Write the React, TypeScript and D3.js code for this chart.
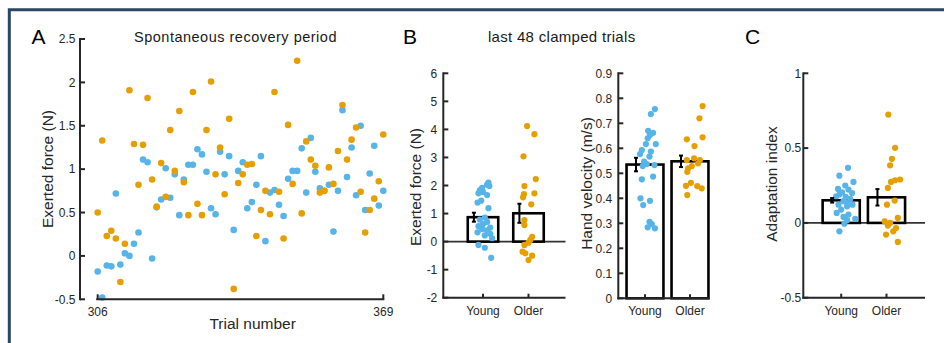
import React from 'react';
import * as d3 from 'd3';

// colours used in the figure
const BLUE = '#56B4E9';
const ORANGE = '#E69F00';
const INK = '#262626';
const FONT = "'Liberation Sans', Arial, Helvetica, sans-serif";

// ---- panel A: spontaneous recovery period (trials 306..369) ----
const trials = d3.range(306, 370);
const youngForceA = [
  -0.18, -0.48, -0.11, -0.12, 0.72, -0.1, 0.03, 0.0, 0.14, 0.27, 1.11, 1.08, -0.03, 0.56, 0.65, 1.01,
  0.67, 0.94, 0.47, 0.88, 1.05, 1.05, 1.23, 1.17, 0.97, 0.55, 0.48, 1.2, 0.94, 1.15, 0.3, 0.98,
  1.08, 0.55, 0.62, 0.82, 1.15, 0.17, 0.73, 0.76, 0.59, 0.46, 0.89, 0.98, 0.98, 1.24, 0.73, 1.36,
  0.97, 0.78, 0.75, 0.82, 0.28, 0.75, 1.68, 0.91, 1.25, 0.7, 1.5, 0.53, 0.95, 1.27, 0.58, 0.75,
];
const olderForceA = [
  0.5, 1.33, 0.23, 0.29, 0.2, -0.3, 0.14, 1.91, 1.29, 0.82, 1.28, 1.82, 0.88, 0.57, 1.07, 0.68,
  1.45, 0.98, 1.67, 0.85, 0.47, 1.89, 0.6, 0.47, 1.45, 2.01, 0.94, 1.25, 0.71, 1.58, -0.38, 0.84,
  0.94, 1.05, 1.06, 0.23, 0.53, 0.75, 0.48, 1.89, 0.74, 0.2, 1.51, 0.83, 2.25, 0.49, 1.32, 1.11,
  1.04, 0.73, 0.75, 1.02, 0.83, 1.21, 1.74, 1.11, 1.34, 1.48, 0.74, 0.27, 0.53, 0.66, 0.86, 1.4,
];
const forceTicksA = [-0.5, 0, 0.5, 1, 1.5, 2, 2.5];

// ---- panel B: last 48 clamped trials ----
const groups = ['Young', 'Older'];

const youngForceB = [2.1, 2.03, 1.98, 1.92, 1.83, 1.77, 1.72, 1.66, 1.46, 1.39, 1.19, 0.86, 0.78,
  0.7, 0.62, 0.55, 0.5, 0.45, 0.4, 0.33, 0.28, 0.22, 0.12, -0.12, -0.22, -0.58];
const youngForceBJitter = [0.12, 0.09, 0.14, -0.02, -0.07, 0, -0.1, 0.09, -0.04, -0.12, 0.12, 0.04,
  -0.07, 0.09, 0, -0.1, 0.16, -0.02, 0.09, -0.12, 0.16, 0.04, 0.2, -0.1, 0.04, 0.18];
const olderForceB = [4.12, 3.83, 3.04, 2.23, 1.98, 1.72, 1.69, 1.58, 1.33, 0.77, 0.59, 0.17, 0.06,
  -0.04, -0.12, -0.36, -0.42, -0.5, -0.66];
const olderForceBJitter = [-0.03, 0.13, -0.11, 0.16, -0.09, 0.13, -0.1, -0.12, 0.06, -0.09, -0.09,
  0.08, 0.04, 0, -0.09, -0.13, -0.07, 0.08, 0];
const forceMeansB = [0.87, 1.01];
const forceLoB = [0.71, 0.67];
const forceHiB = [1.03, 1.35];
const forceTicksB = [-2, -1, 0, 1, 2, 3, 4, 5, 6];

const youngVel = [0.757, 0.737, 0.67, 0.662, 0.653, 0.64, 0.617, 0.617, 0.593, 0.587, 0.577, 0.567,
  0.547, 0.537, 0.529, 0.533, 0.487, 0.476, 0.4, 0.39, 0.373, 0.306, 0.297, 0.284, 0.28];
const youngVelJitter = [0.22, 0.13, 0.07, 0.18, 0.11, 0.06, 0.24, 0.02, -0.07, 0.13, -0.11, 0.1,
  -0.02, 0.04, -0.05, 0.21, 0.18, -0.07, -0.1, 0.11, -0.04, 0.1, 0.15, 0.06, 0.22];
const olderVel = [0.769, 0.72, 0.644, 0.636, 0.609, 0.553, 0.56, 0.553, 0.54, 0.529, 0.52, 0.506,
  0.462, 0.45, 0.449, 0.44, 0.413];
const olderVelJitter = [0.28, 0.21, 0.28, -0.07, 0.1, 0.22, 0.09, -0.07, 0.18, 0.04, -0.04, -0.06,
  0.02, -0.09, 0.16, 0.26, -0.06];
const velMeans = [0.535, 0.548];
const velLo = [0.508, 0.525];
const velHi = [0.562, 0.571];
const velTicks = [0, 0.1, 0.2, 0.3, 0.4, 0.5, 0.6, 0.7, 0.8, 0.9];

// ---- panel C: adaptation index ----
const youngAdapt = [0.368, 0.316, 0.274, 0.25, 0.227, 0.223, 0.205, 0.2, 0.19, 0.178, 0.174, 0.16,
  0.145, 0.135, 0.122, 0.122, 0.111, 0.089, 0.067, 0.056, 0.04, 0.027, 0.018, -0.005, -0.056];
const youngAdaptJitter = [0.15, -0.04, 0.27, 0.09, -0.07, 0.16, 0.02, 0.24, -0.04, -0.11, 0.1, 0.2,
  0.05, 0.13, -0.06, 0.25, 0.13, 0, -0.1, 0.16, 0.05, 0.31, 0.13, 0.07, -0.04];
const olderAdapt = [0.724, 0.502, 0.428, 0.385, 0.29, 0.285, 0.274, 0.234, 0.149, 0.122, 0.033, 0.01,
  0.0, -0.018, -0.034, -0.056, -0.078, -0.127];
const olderAdaptJitter = [0.04, 0.19, 0.12, 0.08, 0.3, 0.19, 0.1, 0.03, 0.18, 0.01, 0.25, -0.04,
  0.08, 0.03, 0.21, 0.15, -0.01, 0.25];
const adaptMeans = [0.151, 0.171];
const adaptLo = [0.136, 0.116];
const adaptHi = [0.166, 0.226];
const adaptTicks = [-0.5, 0, 0.5, 1];

const fmt = (v: number) => String(v);

function YAxis({ x, y, ticks, gap }: any) {
  const [d0, d1] = y.domain();
  return (
    <g stroke={INK} strokeWidth={2}>
      <line x1={x} x2={x} y1={y(d0) + 1} y2={y(d1) - 1} />
      {ticks.map((t: number) => (
        <g key={t}>
          <line x1={x} x2={x + 5} y1={y(t)} y2={y(t)} />
          <text x={x - gap} y={y(t)} dy="0.35em" textAnchor="end" stroke="none" fill={INK} fontSize={12}>
            {fmt(t)}
          </text>
        </g>
      ))}
    </g>
  );
}

function YLabel({ x, y, text }: any) {
  return (
    <text transform={`translate(${x},${y}) rotate(-90)`} textAnchor="middle" fontSize={15.5} fill={INK}>
      {text}
    </text>
  );
}

function BarPanel({ x, y, axisX, xEnd, ticks, gap, barW, means, lo, hi, young, youngJit, older, olderJit, zero, labelBase }: any) {
  const yBase = y(y.domain()[0]);
  const y0 = y(0);
  const bw = x(1 + barW) - x(1);
  const series = [
    { vals: young, jit: youngJit, color: BLUE },
    { vals: older, jit: olderJit, color: ORANGE },
  ];
  return (
    <g>
      {zero && <line x1={axisX} x2={xEnd} y1={y0} y2={y0} stroke="#333" strokeWidth={1.8} />}
      {means.map((m: number, i: number) => (
        <rect key={i} x={x(i + 1) - bw / 2} y={y(Math.max(m, 0))} width={bw} height={Math.abs(y(m) - y0)}
          fill="#fff" stroke="#000" strokeWidth={2.6} />
      ))}
      {series.map((s, i) => (
        <g key={i} fill={s.color}>
          {s.vals.map((v: number, j: number) => (
            <circle key={j} cx={x(i + 1 + s.jit[j])} cy={y(v)} r={3.1} />
          ))}
        </g>
      ))}
      {means.map((m: number, i: number) => {
        const ex = x(i + 0.8);
        return (
          <g key={i} stroke="#000" strokeWidth={2}>
            <line x1={ex} x2={ex} y1={y(lo[i])} y2={y(hi[i])} />
            <line x1={ex - 2} x2={ex + 2} y1={y(lo[i])} y2={y(lo[i])} />
            <line x1={ex - 2} x2={ex + 2} y1={y(hi[i])} y2={y(hi[i])} />
          </g>
        );
      })}
      <g stroke={INK} strokeWidth={2}>
        <line x1={axisX - 1} x2={xEnd} y1={yBase} y2={yBase} />
        {groups.map((g, i) => (
          <g key={g}>
            <line x1={x(i + 1)} x2={x(i + 1)} y1={yBase} y2={yBase - 4} />
            <text x={x(i + 1)} y={labelBase} textAnchor="middle" stroke="none" fill={INK} fontSize={12}>{g}</text>
          </g>
        ))}
      </g>
      <YAxis x={axisX} y={y} ticks={ticks} gap={gap} />
    </g>
  );
}

export default function App() {
  const xA = d3.scaleLinear().domain([306, 369]).range([97.7, 383.3]);
  const yA = d3.scaleLinear().domain([-0.5, 2.5]).range([299.3, 39]);

  const xB1 = d3.scaleLinear().domain([1, 2]).range([483, 528.5]);
  const yB1 = d3.scaleLinear().domain([-2, 6]).range([297.7, 73.3]);
  const xB2 = d3.scaleLinear().domain([1, 2]).range([645, 690]);
  const yB2 = d3.scaleLinear().domain([0, 0.9]).range([298.3, 73.3]);
  const xC = d3.scaleLinear().domain([1, 2]).range([841.2, 886.5]);
  const yC = d3.scaleLinear().domain([-0.5, 1]).range([297.7, 73.3]);

  const axisYA = yA(-0.5);

  return (
    <svg width={944} height={343} style={{ position: 'absolute', left: 0, top: 0, background: '#fff' }} fontFamily={FONT}>
      {/* outer frame */}
      <path d="M9.3,343 V9.8 H944" fill="none" stroke="#2c4763" strokeWidth={3} />

      {/* panel letters and titles */}
      <text x={31.5} y={43.5} fontSize={21} fill="#000">A</text>
      <text x={403} y={43.5} fontSize={21} fill="#000">B</text>
      <text x={745} y={44} fontSize={21} fill="#000">C</text>
      <text x={235.5} y={41.5} textAnchor="middle" fontSize={14.5} fill="#1a1a1a" letterSpacing={0.5}>Spontaneous recovery period</text>
      <text x={561.7} y={41.5} textAnchor="middle" fontSize={15} fill="#1a1a1a" letterSpacing={0.3}>last 48 clamped trials</text>

      {/* panel A */}
      <g fill={BLUE}>
        {youngForceA.map((v, i) => <circle key={i} cx={xA(trials[i])} cy={yA(v)} r={3.3} />)}
      </g>
      <g fill={ORANGE}>
        {olderForceA.map((v, i) => <circle key={i} cx={xA(trials[i])} cy={yA(v)} r={3.3} />)}
      </g>
      <g stroke={INK} strokeWidth={2}>
        <line x1={xA(306) - 1.5} x2={xA(369) + 1} y1={axisYA} y2={axisYA} />
        {[306, 369].map((t) => (
          <g key={t}>
            <line x1={xA(t)} x2={xA(t)} y1={axisYA} y2={axisYA - 5} />
            <text x={xA(t)} y={316} textAnchor="middle" stroke="none" fill={INK} fontSize={12}>{t}</text>
          </g>
        ))}
      </g>
      <YAxis x={80} y={yA} ticks={forceTicksA} gap={4.5} />
      <YLabel x={52.5} y={169} text="Exerted force (N)" />
      <text x={252.7} y={328.5} textAnchor="middle" fontSize={15.5} fill={INK}>Trial number</text>

      {/* panel B, force */}
      <BarPanel x={xB1} y={yB1} axisX={443.3} xEnd={565.5} ticks={forceTicksB} gap={6} barW={0.67}
        means={forceMeansB} lo={forceLoB} hi={forceHiB}
        young={youngForceB} youngJit={youngForceBJitter} older={olderForceB} olderJit={olderForceBJitter}
        zero labelBase={315} />
      <YLabel x={421} y={187} text="Exerted force (N)" />

      {/* panel B, velocity */}
      <BarPanel x={xB2} y={yB2} axisX={618.3} xEnd={709.5} ticks={velTicks} gap={6} barW={0.82}
        means={velMeans} lo={velLo} hi={velHi}
        young={youngVel} youngJit={youngVelJitter} older={olderVel} olderJit={olderVelJitter}
        zero={false} labelBase={314.5} />
      <YLabel x={592} y={183.5} text="Hand velocity (m/s)" />

      {/* panel C */}
      <BarPanel x={xC} y={yC} axisX={803.3} xEnd={925} ticks={adaptTicks} gap={2} barW={0.82}
        means={adaptMeans} lo={adaptLo} hi={adaptHi}
        young={youngAdapt} youngJit={youngAdaptJitter} older={olderAdapt} olderJit={olderAdaptJitter}
        zero labelBase={315} />
      <YLabel x={777} y={184} text="Adaptation index" />
    </svg>
  );
}
